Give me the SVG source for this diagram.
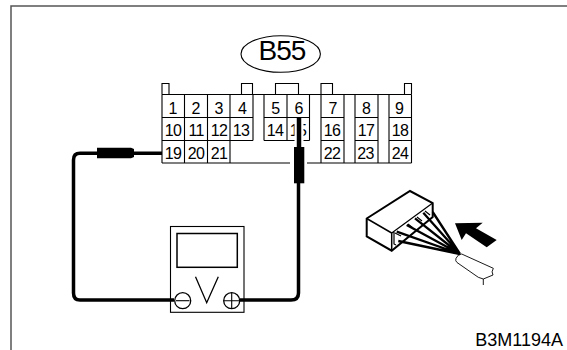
<svg xmlns="http://www.w3.org/2000/svg" width="567" height="350" viewBox="0 0 567 350">
<style>
.t{font-family:"Liberation Sans",Arial,sans-serif;fill:#000}
.n{font-size:16px;text-anchor:middle;letter-spacing:-.7px}
.l{fill:none;stroke:#000;stroke-width:1.100}
.w{fill:none;stroke:#000;stroke-width:3.500}
</style>
<rect width="567" height="350" fill="#fff"/>
<path fill="none" stroke="#555" stroke-width="1.500" d="M11 350V6H567"/>
<g id="label-b55"><ellipse class="l" cx="280.700" cy="54" rx="39.700" ry="18.300"/><text class="t" x="282" y="59.500" font-size="28" letter-spacing="-1" text-anchor="middle">B55</text></g>
<g id="connector-b55">
<path class="l" d="M162 94.500V83.500H169V94.500M241.500 94.500V83.500H252.500V94.500M275.500 94.500V83.500H298.500V94.500M321 94.500V83.500H332.500V94.500M404.500 94.500V83.500H411.500V94.500"/>
<path class="l" d="M162 94.500H411.500M162 117.500H253M264 117.500H309.500M321 117.500H344M355 117.500H378M389 117.500H411.500M162 140.500H253M264 140.500H309.500M321 140.500H344M355 140.500H378M389 140.500H411.500M162 163H290M307 163H411.500"/>
<path class="l" d="M162 94.500V163M184.500 94.500V163M207.500 94.500V163M230 94.500V163M253 94.500V140.500M264 94.500V140.500M287 94.500V140.500M309.500 94.500V140.500M321 94.500V163M344 94.500V163M355 94.500V163M378 94.500V163M389 94.500V163M411.500 94.500V163"/>
<g class="t n">
<text x="172.700" y="113.500">1</text><text x="195.700" y="113.500">2</text><text x="218.700" y="113.500">3</text><text x="242" y="113.500">4</text><text x="275.300" y="113.500">5</text><text x="298.700" y="113.500">6</text><text x="332.700" y="113.500">7</text><text x="366" y="113.500">8</text><text x="399" y="113.500">9</text>
<text x="173" y="136">10</text><text x="196" y="136">11</text><text x="219" y="136">12</text><text x="241" y="136">13</text><text x="275" y="136">14</text><text x="298" y="136">15</text><text x="332" y="136">16</text><text x="366" y="136">17</text><text x="400" y="136">18</text>
<text x="173" y="158.500">19</text><text x="196" y="158.500">20</text><text x="219" y="158.500">21</text><text x="332" y="158.500">22</text><text x="365.500" y="158.500">23</text><text x="400" y="158.500">24</text>
</g>
</g>
<g id="connectors">
<path fill="none" stroke="#fff" stroke-width="9" d="M299 119V147"/>
<path class="w" d="M162 153.300H134M97 153.300H80Q73.500 153.300 73.500 160V293Q73.500 300 80 300H174M240 300H291Q298.500 300 298.500 293V183"/>
<path fill="none" stroke="#000" stroke-width="4.500" d="M299 117V147"/>
<path d="M97 147.700H131L134 149V157L131 158.300H97Z"/>
<path d="M294 147H304.300V183.300H294Z"/>
</g>
<g id="voltmeter">
<rect class="l" x="170.500" y="226.500" width="73.500" height="85.800" fill="#fff"/>
<rect x="177" y="233.500" width="60.300" height="33.800" fill="#fff" stroke="#000" stroke-width="1.500"/>
<path fill="none" stroke="#000" stroke-width="1.300" d="M195.500 276.700L206.700 302.700L218.300 276.700"/>
<circle cx="182.700" cy="300.700" r="8" fill="#fff" stroke="#000" stroke-width="1.300"/><path class="l" d="M176 300.700H189.500"/>
<circle cx="231.700" cy="300.700" r="8" fill="#fff" stroke="#000" stroke-width="1.300"/><path class="l" d="M223.700 300.700H239.700M231.700 292.700V308.700"/>
</g>
<g id="harness">
<path fill="#fff" stroke="#000" stroke-width="2" d="M366.700 218.500L410 191L432.700 203V217L391.700 250.700L366.700 236.300Z"/>
<path fill="none" stroke="#000" stroke-width="1.500" d="M366.700 218.500L391.700 233V250.700"/>
<path fill="none" stroke="#000" stroke-width="1.200" d="M391.700 233L432.700 203M394 232V244L396 245M395 233L401 236M408 224L413 228M417 217L422 221M425 211L430 215"/>
<path fill="none" stroke="#000" stroke-width="2.300" d="M396.700 231.700L460 254M398.300 241L460 254M406.700 225L460 254M415 218.300L460 254M423.300 212.700L460 254M432.700 212L460 254"/>
<path fill="none" stroke="#000" stroke-width=".9" d="M456 258.300Q458 254 461.700 254L493.300 268.300Q491 272 493 275L483.300 279V285M456 258.300Q455 261 457 262.500L478.300 277.300L483.300 279"/>
<path d="M455 223.300L482.700 222.700L476 228.300L496.700 240L486.700 247.300L466 233.300L461.700 240Z"/>
</g>
<text class="t" x="563" y="345.500" font-size="18" text-anchor="end">B3M1194A</text>
</svg>
